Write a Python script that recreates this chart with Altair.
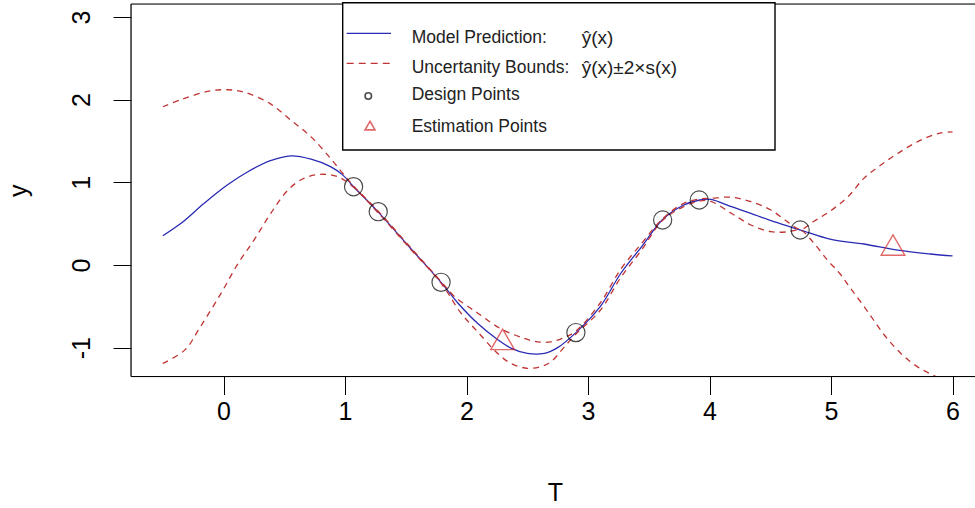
import altair as alt
import pandas as pd

# Kriging model prediction y-hat(x)
pred_t = [-0.5, -0.35, -0.16, 0.03, 0.2, 0.38, 0.555, 0.72, 0.88, 0.98, 1.07, 1.27,
          1.54, 1.79, 1.93, 2.09, 2.26, 2.37, 2.5, 2.64, 2.75, 2.9, 3.1, 3.27, 3.44,
          3.61, 3.78, 3.92, 4.01, 4.18, 4.34, 4.53, 4.75, 5.0, 5.27, 5.55, 5.82, 6.0]
pred_y = [0.354, 0.504, 0.746, 0.967, 1.128, 1.258, 1.32, 1.28, 1.19, 1.09, 0.947, 0.645,
          0.20, -0.21, -0.463, -0.705, -0.907, -1.008, -1.07, -1.07, -1.0, -0.818, -0.504,
          -0.10, 0.22, 0.544, 0.72, 0.786, 0.794, 0.705, 0.625, 0.524, 0.423, 0.31, 0.254,
          0.18, 0.133, 0.109]

# upper bound y-hat(x) + 2 s(x)
upper_t = [-0.5, -0.35, -0.13, 0.03, 0.17, 0.38, 0.555, 0.72, 0.88, 0.98, 1.07, 1.27,
           1.54, 1.79, 1.90, 2.09, 2.28, 2.47, 2.585, 2.695, 2.8, 2.9, 3.1, 3.27, 3.44,
           3.61, 3.78, 3.92, 4.01, 4.18, 4.34, 4.505, 4.64, 4.75, 4.85, 5.0, 5.14, 5.27,
           5.41, 5.55, 5.71, 5.88, 6.0]
upper_y = [1.914, 2.00, 2.10, 2.12, 2.09, 1.955, 1.75, 1.55, 1.29, 1.11, 0.955, 0.655,
           0.21, -0.20, -0.38, -0.58, -0.77, -0.886, -0.93, -0.93, -0.88, -0.80, -0.46,
           -0.05, 0.26, 0.554, 0.74, 0.80, 0.806, 0.82, 0.766, 0.665, 0.524, 0.43, 0.52,
           0.66, 0.826, 1.048, 1.21, 1.35, 1.49, 1.59, 1.61]

# lower bound y-hat(x) - 2 s(x)
lower_t = [-0.5, -0.32, -0.19, -0.02, 0.12, 0.25, 0.38, 0.53, 0.66, 0.80, 0.94, 1.07,
           1.27, 1.54, 1.79, 1.955, 2.09, 2.256, 2.365, 2.50, 2.61, 2.695, 2.8, 2.9, 3.1,
           3.27, 3.44, 3.61, 3.78, 3.92, 4.01, 4.18, 4.34, 4.505, 4.64, 4.75, 4.85, 4.97,
           5.07, 5.16, 5.30, 5.44, 5.575, 5.71, 5.85, 6.0]
lower_y = [-1.19, -1.03, -0.746, -0.34, 0.02, 0.30, 0.605, 0.907, 1.048, 1.097, 1.068,
           0.94, 0.635, 0.19, -0.22, -0.584, -0.806, -1.07, -1.19, -1.25, -1.23, -1.17,
           -1.0, -0.835, -0.55, -0.15, 0.18, 0.534, 0.70, 0.775, 0.77, 0.625, 0.484, 0.403,
           0.40, 0.42, 0.28, 0.06, -0.10, -0.28, -0.56, -0.85, -1.07, -1.23, -1.34, -1.44]

# design points (observed runs) and estimation points
design_t = [1.07, 1.273, 1.79, 2.90, 3.614, 3.915, 4.746]
design_y = [0.947, 0.645, -0.21, -0.818, 0.544, 0.786, 0.423]
est_t = [2.297, 5.51]
est_y = [-0.941, 0.20]

x_ticks = [0, 1, 2, 3, 4, 5, 6]
y_ticks = [-1, 0, 1, 2, 3]

BLUE = "#2a2ab4"
RED = "#c03434"
TRI_RED = "#d42a2a"
AXIS_FONT = "Liberation Sans Narrow, Arial Narrow, Liberation Sans"
TEXT_FONT = "Liberation Sans, Arial"
W, H = 844, 372.5

x_scale = alt.Scale(domain=[-0.762, 6.185], nice=False, zero=False)
y_scale = alt.Scale(domain=[-1.349, 3.157], nice=False, zero=False)

x_axis = alt.Axis(values=x_ticks, title="T", domain=False, grid=False,
                  tickSize=18, tickColor="black", tickWidth=1,
                  labelExpr="datum.value + ''",
                  labelFont=AXIS_FONT, labelFontSize=25, labelColor="black",
                  labelPadding=17, labelBaseline="middle", labelFlush=False,
                  titleFont=AXIS_FONT, titleFontSize=25, titleFontWeight="normal",
                  titleColor="black", titleX=424, titleY=116, titleBaseline="middle")
y_axis = alt.Axis(values=y_ticks, title="y", domain=False, grid=False,
                  tickSize=18, tickColor="black", tickWidth=1,
                  labelExpr="datum.value + ''",
                  labelFont=AXIS_FONT, labelFontSize=25, labelColor="black",
                  labelAngle=270, labelAlign="center", labelBaseline="middle",
                  labelPadding=32, labelFlush=False,
                  titleFont=AXIS_FONT, titleFontSize=25, titleFontWeight="normal",
                  titleColor="black", titleAngle=270, titleX=-113, titleY=H / 2,
                  titleAlign="center", titleBaseline="middle")

pred_df = pd.DataFrame({"t": pred_t, "y": pred_y})
upper_df = pd.DataFrame({"t": upper_t, "y": upper_y})
lower_df = pd.DataFrame({"t": lower_t, "y": lower_y})
design_df = pd.DataFrame({"t": design_t, "y": design_y})
est_df = pd.DataFrame({"t": est_t, "y": est_y})

X = alt.X("t:Q", scale=x_scale, axis=x_axis)
Y = alt.Y("y:Q", scale=y_scale, axis=y_axis)

# triangle with its centroid on the data point
TRIANGLE = "M0,-1.155L1,0.577L-1,0.577Z"

pred_line = alt.Chart(pred_df).mark_line(color=BLUE, strokeWidth=1.3,
                                         interpolate="catmull-rom", clip=True).encode(x=X, y=Y)
upper_line = alt.Chart(upper_df).mark_line(color=RED, strokeWidth=1.3, strokeDash=[6, 5],
                                           interpolate="catmull-rom", clip=True).encode(x=X, y=Y)
lower_line = alt.Chart(lower_df).mark_line(color=RED, strokeWidth=1.3, strokeDash=[6, 5],
                                           interpolate="catmull-rom", clip=True).encode(x=X, y=Y)
design_pts = alt.Chart(design_df).mark_point(shape="circle", size=330, color="black",
                                             strokeWidth=1.2, filled=False).encode(x=X, y=Y)
est_pts = alt.Chart(est_df).mark_point(shape=TRIANGLE, size=560, color=TRI_RED,
                                       strokeWidth=1.4, filled=False).encode(x=X, y=Y)

one = pd.DataFrame({"k": [0]})

# plot frame: left, top and bottom edges
frame = [
    alt.Chart(one).mark_rule(color="black", strokeWidth=1.2).encode(
        x=alt.value(0), y=alt.value(0), y2=alt.value(H)),
    alt.Chart(one).mark_rule(color="black", strokeWidth=1.2).encode(
        x=alt.value(0), x2=alt.value(W), y=alt.value(0)),
    alt.Chart(one).mark_rule(color="black", strokeWidth=1.2).encode(
        x=alt.value(0), x2=alt.value(W), y=alt.value(H)),
]

# legend box
LX0, LX1, LY0, LY1 = 211.7, 644, -1.3, 146
legend = [
    alt.Chart(one).mark_rect(fill="white", stroke="black", strokeWidth=1.4).encode(
        x=alt.value(LX0), x2=alt.value(LX1), y=alt.value(LY0), y2=alt.value(LY1)),
    alt.Chart(one).mark_rule(color=BLUE, strokeWidth=1.3).encode(
        x=alt.value(215.7), x2=alt.value(260), y=alt.value(29.3)),
    alt.Chart(one).mark_rule(color=RED, strokeWidth=1.3, strokeDash=[7, 5]).encode(
        x=alt.value(215.7), x2=alt.value(260), y=alt.value(59.3)),
    alt.Chart(one).mark_point(shape="circle", size=42, color="black", strokeWidth=1.6,
                              filled=False).encode(x=alt.value(237.3), y=alt.value(92)),
    alt.Chart(one).mark_point(shape=TRIANGLE, size=100, color=TRI_RED, strokeWidth=1.6,
                              filled=False).encode(x=alt.value(239), y=alt.value(123)),
]
legend_text = [
    ("Model Prediction:", 280.7, 34, 17.5),
    ("Uncertanity Bounds:", 280.7, 64, 17.5),
    ("Design Points", 280.7, 91, 17.5),
    ("Estimation Points", 280.7, 122.7, 17.5),
    ("ŷ(x)", 450.7, 34, 19),
    ("ŷ(x)±2×s(x)", 450.7, 64, 19),
]
for txt, px, py, fs in legend_text:
    legend.append(
        alt.Chart(one).mark_text(text=txt, align="left", baseline="middle",
                                 font=TEXT_FONT, fontSize=fs, color="#222222").encode(
            x=alt.value(px), y=alt.value(py)))

chart = alt.layer(
    pred_line, upper_line, lower_line, design_pts, est_pts, *frame, *legend
).properties(
    width=W, height=H,
    autosize=alt.AutoSizeParams(type="none"),
    padding={"left": 131, "top": 4, "right": 0, "bottom": 131.5},
).configure_view(stroke=None).configure(background="white")

chart.save("out.html", embed_options={"renderer": "svg", "actions": False})
